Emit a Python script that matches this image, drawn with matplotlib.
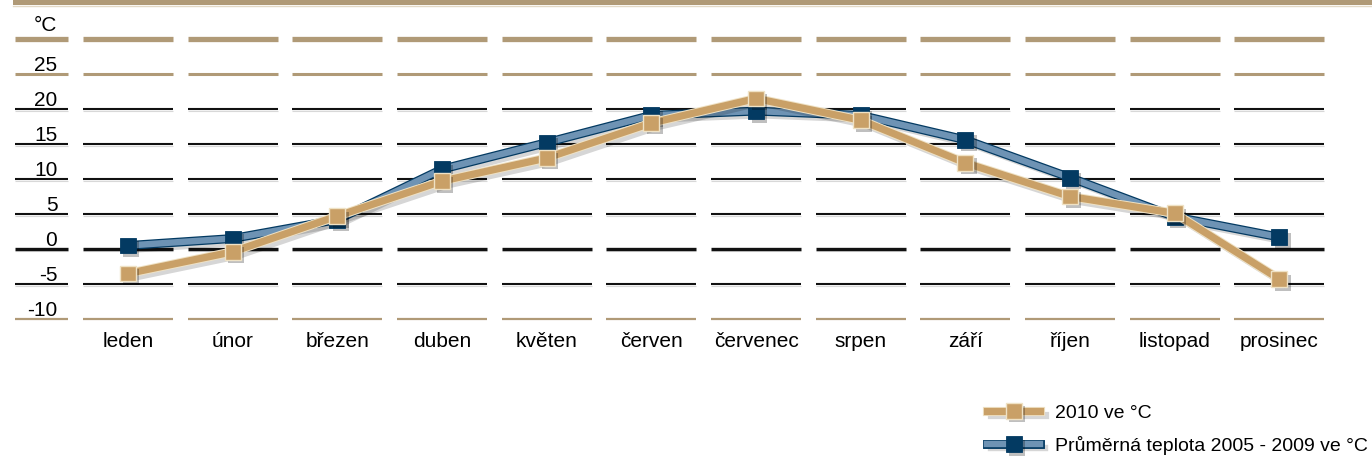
import matplotlib
matplotlib.use('Agg')
import matplotlib.pyplot as plt
import matplotlib.patheffects as pe

months = ['leden', 'únor', 'březen', 'duben', 'květen', 'červen',
          'červenec', 'srpen', 'září', 'říjen', 'listopad', 'prosinec']
t2010 = [-3.5, -0.4, 4.7, 9.7, 13.0, 18.0, 21.5, 18.4, 12.3, 7.5, 5.1, -4.3]
t_avg = [0.5, 1.5, 4.2, 11.4, 15.2, 19.1, 19.7, 19.1, 15.6, 10.2, 4.6, 1.7]
y_ticks = [25, 20, 15, 10, 5, 0, -5, -10]
labels = ['2010 ve °C', 'Průměrná teplota 2005 - 2009 ve °C']

plt.rcParams['font.family'] = ['Liberation Sans', 'DejaVu Sans']
plt.rcParams['font.size'] = 15

brown = '#b09a77'
tan = '#c9a067'
tan_edge = '#efe2c5'
blue = '#6e93b4'
navy = '#033a62'

fig = plt.figure(figsize=(13.72, 4.63), dpi=100)
ax = fig.add_axes([0, 0, 1, 1])
ax.set_xlim(-128 / 104.67, (1372 - 128) / 104.67)
ax.set_ylim(-214 / 7, 249 / 7)
ax.axis('off')

x = list(range(len(months)))
half = 0.43

# top bar
ax.axhspan(34.8, 35.7, xmin=13 / 1372, color=brown, lw=0)
ax.axhline(34.72, xmin=13 / 1372, color='#e3d9c6', lw=1)

# segmented grid lines (label column + one segment per month)
segs = [(-1.08, -0.573)] + [(i - half, i + half) for i in x]
levels = [30] + y_ticks
for lv in levels:
    if lv == 30:
        st = dict(color=brown, lw=3.8)
    elif lv in (25, -10):
        st = dict(color=brown, lw=2.2 if lv == 25 else 1.6)
    elif lv == 0:
        st = dict(color='#111111', lw=2.4)
    else:
        st = dict(color='#111111', lw=1.5)
    for a, b in segs:
        ax.plot([a, b], [lv, lv], solid_capstyle='butt', zorder=1, **st)
        if lv not in (30, 25, -10):
            ax.plot([a, b], [lv - 0.3, lv - 0.3], color='#d8d8d8', lw=0.8,
                    solid_capstyle='butt', zorder=0.9)

for v in y_ticks:
    ax.text(-0.675, v + 0.45, str(v), ha='right', va='baseline')
ax.text(-0.675, 31.2, '°C', ha='right', va='baseline')

for i, m in enumerate(months):
    ax.text(i, -14.0, m, ha='center', va='baseline')

shadow = pe.SimpleLineShadow(offset=(3, -3), shadow_color='k', alpha=0.16)
mshadow = pe.SimplePatchShadow(offset=(2.5, -2.5), shadow_rgbFace='k', alpha=0.25)

bl, = ax.plot(x, t_avg, color=blue, lw=4.6, solid_joinstyle='miter', zorder=3,
              path_effects=[shadow, pe.Stroke(linewidth=6.4, foreground=navy), pe.Normal()])
bm, = ax.plot(x, t_avg, ls='none', marker='s', ms=11.5, mfc=navy, mec=navy, mew=0.6,
              zorder=4, path_effects=[mshadow, pe.Normal()])
tl, = ax.plot(x, t2010, color=tan, lw=5.2, solid_joinstyle='miter', zorder=5,
              path_effects=[shadow, pe.Stroke(linewidth=6.6, foreground=tan_edge), pe.Normal()])
tm, = ax.plot(x, t2010, ls='none', marker='s', ms=11.5, mfc=tan, mec=tan_edge, mew=1.0,
              zorder=6, path_effects=[mshadow, pe.Normal()])

ax.legend([(tl, tm), (bl, bm)], labels, loc='upper left', fontsize=14,
          bbox_to_anchor=(987 / 1372, 1 - 404 / 463), bbox_transform=fig.transFigure,
          frameon=False, handlelength=2.75, handletextpad=0.75, labelspacing=0.74,
          numpoints=1, borderpad=0, borderaxespad=0)

fig.savefig('out.png', dpi=100)
